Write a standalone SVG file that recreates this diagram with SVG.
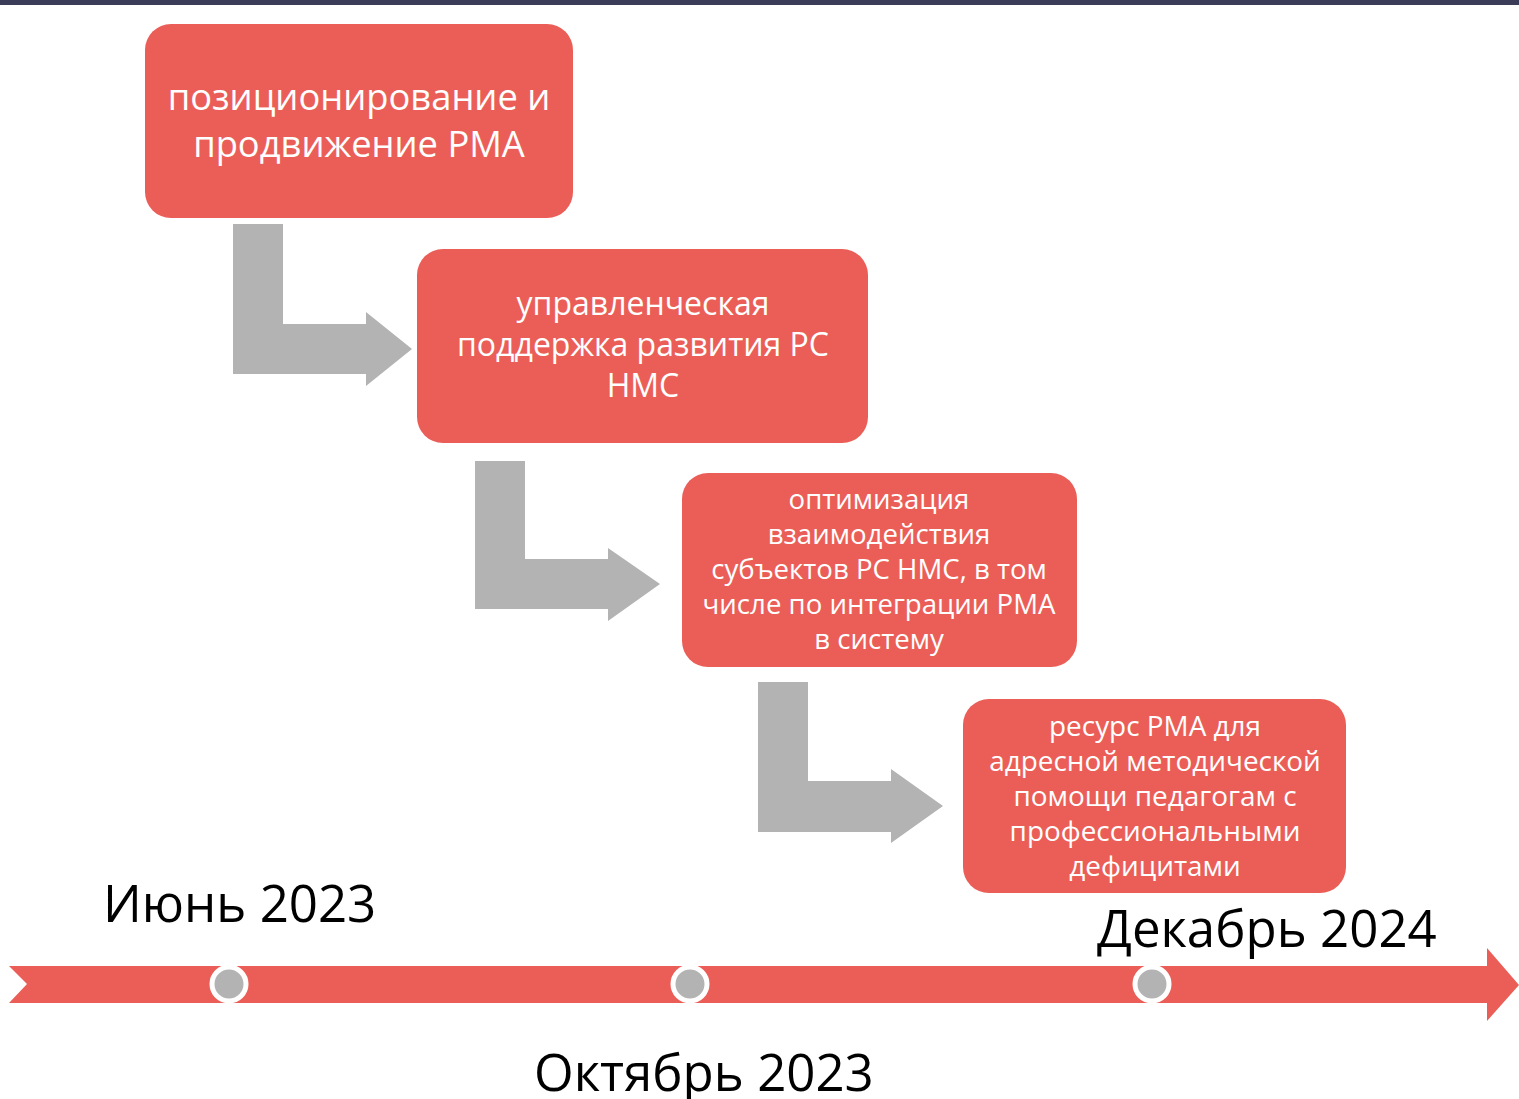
<svg xmlns="http://www.w3.org/2000/svg" width="1519" height="1099" viewBox="0 0 1519 1099">
<style>
.box{fill:#EB5E57;}
.bt{fill:#fff;font-family:"Open Sans","Noto Sans",sans-serif;text-anchor:middle;}
.arr{fill:#B3B3B3;}
.lbl{fill:#000;font-family:"Open Sans","Noto Sans",sans-serif;font-size:51px;}
</style>
<rect x="0" y="0" width="1519" height="5" fill="#3B3D58"/>
<g id="connectors">
<path class="arr" d="M233,224 H283 V324 H366 V312 L412,349 L366,386 V374 H233 Z"/>
<path class="arr" d="M475,461 H525 V559 H608 V548 L660,584 L608,621 V609 H475 Z"/>
<path class="arr" d="M758,682 H808 V781 H891 V769 L943,806 L891,843 V832 H758 Z"/>
</g>
<g id="node1">
<rect class="box" x="145" y="24" width="428" height="194" rx="26"/>
<text class="bt" font-size="36.3"><tspan x="359" y="110">позиционирование и</tspan><tspan x="359" y="157">продвижение РМА</tspan></text>
</g>
<g id="node2">
<rect class="box" x="417" y="249" width="451" height="194" rx="26"/>
<text class="bt" font-size="32"><tspan x="643" y="315">управленческая</tspan><tspan x="643" y="356">поддержка развития РС</tspan><tspan x="643" y="397">НМС</tspan></text>
</g>
<g id="node3">
<rect class="box" x="682" y="473" width="395" height="194" rx="26"/>
<text class="bt" font-size="27.6"><tspan x="879" y="509">оптимизация</tspan><tspan x="879" y="544">взаимодействия</tspan><tspan x="879" y="579">субъектов РС НМС, в том</tspan><tspan x="879" y="614">числе по интеграции РМА</tspan><tspan x="879" y="649">в систему</tspan></text>
</g>
<g id="node4">
<rect class="box" x="963" y="699" width="383" height="194" rx="26"/>
<text class="bt" font-size="27.9"><tspan x="1155" y="736">ресурс РМА для</tspan><tspan x="1155" y="771">адресной методической</tspan><tspan x="1155" y="806">помощи педагогам с</tspan><tspan x="1155" y="841">профессиональными</tspan><tspan x="1155" y="876">дефицитами</tspan></text>
</g>
<g id="timeline">
<path class="box" d="M9,966 H1487 V948 L1519,985 L1487,1021 V1003 H9 L27,984 Z"/>
<g fill="#B3B3B3" stroke="#fff" stroke-width="5">
<circle cx="229" cy="984" r="17"/>
<circle cx="690" cy="984" r="17"/>
<circle cx="1152" cy="984" r="17"/>
</g>
</g>
<text class="lbl" x="103" y="922">Июнь 2023</text>
<text class="lbl" x="1097" y="947">Декабрь 2024</text>
<text class="lbl" x="534" y="1091">Октябрь 2023</text>
</svg>
